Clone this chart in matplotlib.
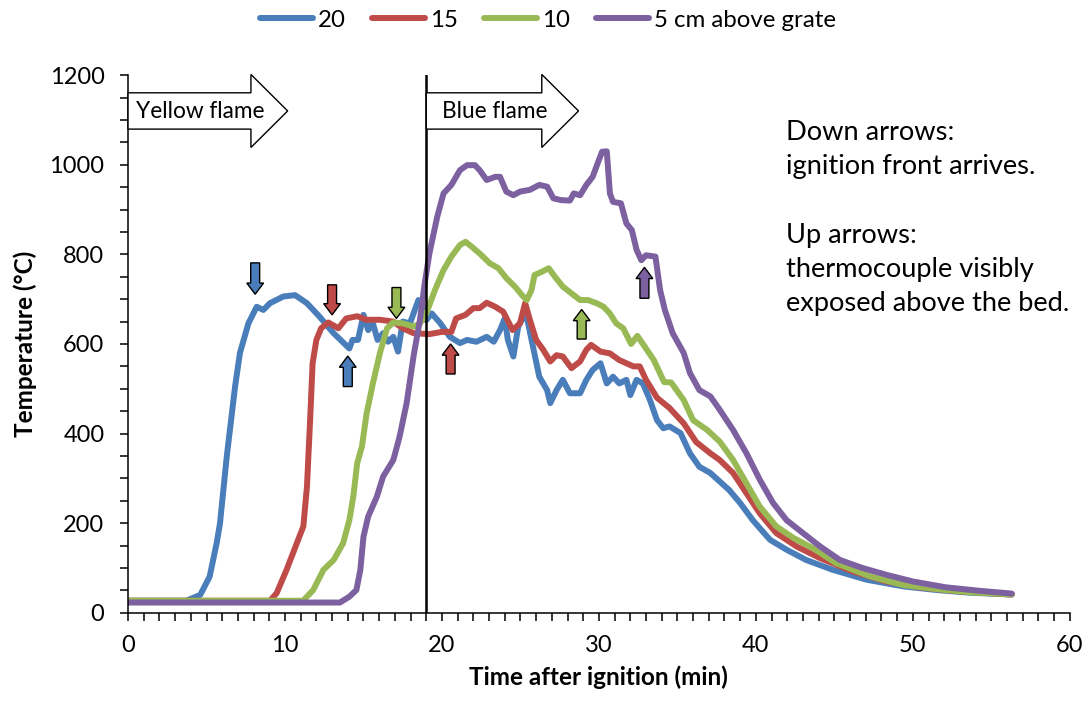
import matplotlib
matplotlib.use("Agg")
import matplotlib.pyplot as plt
from matplotlib.patches import FancyArrow

plt.rcParams['font.family'] = ['Lato', 'DejaVu Sans']

# time (min) and temperature (C) for each thermocouple height
t20 = [0, 3.7, 4.6, 5.2, 5.65, 5.86, 6.29, 6.82, 7.13, 7.67, 8.2, 8.62, 9.04, 9.9, 10.64, 11.4, 12.2, 13.1,
       14.1, 14.3, 14.65, 15.0, 15.3, 15.6, 15.9, 16.25, 16.57, 16.9, 17.2, 17.5, 17.96, 18.5, 18.7, 19.0,
       19.35, 19.9, 20.5, 21.15, 21.6, 22.2, 22.85, 23.3, 23.7, 24.0, 24.2, 24.55, 24.86, 25.2, 25.4, 25.8,
       26.2, 26.7, 26.9, 27.3, 27.7, 28.15, 28.8, 29.2, 29.6, 30.1, 30.5, 30.9, 31.3, 31.75, 32.0, 32.4,
       32.8, 33.25, 33.7, 34.1, 34.5, 35.2, 35.8, 36.4, 37.1, 37.7, 38.3, 39.0, 39.8, 40.9, 41.95, 43.2,
       44.9, 47.05, 49.4, 51.5, 53.6, 56.3]
T20 = [27, 27, 40, 81, 156, 200, 349, 505, 580, 646, 683, 676, 691, 706, 709, 691, 661, 624,
       590, 609, 609, 665, 631, 646, 609, 624, 605, 616, 583, 650, 646, 698, 691, 653,
       668, 646, 616, 602, 609, 605, 616, 605, 631, 657, 609, 572, 639, 661, 661, 594,
       527, 497, 468, 497, 520, 490, 490, 520, 542, 557, 512, 527, 512, 520, 486, 520,
       512, 475, 430, 412, 416, 401, 356, 326, 312, 293, 274, 245, 207, 163, 141, 118,
       96, 74, 59, 51, 45, 41]

t15 = [0, 9.04, 9.47, 10.1, 10.75, 11.17, 11.4, 11.6, 11.76, 12.0, 12.3, 12.76, 13.4, 13.9, 14.6, 15.2,
       16.05, 16.9, 17.5, 18.2, 19.2, 19.98, 20.6, 20.9, 21.5, 22.0, 22.4, 22.85, 23.4, 23.9, 24.5, 24.97,
       25.3, 25.6, 26.0, 26.45, 26.9, 27.3, 27.7, 28.25, 28.8, 29.2, 29.5, 30.1, 30.7, 31.3, 31.75, 32.2,
       32.6, 33.0, 33.7, 34.5, 35.4, 36.2, 37.1, 37.7, 38.55, 39.4, 40.25, 41.3, 42.6, 44.1, 46.2, 48.3,
       50.4, 52.6, 56.3]
T15 = [27, 27, 44, 96, 155, 193, 282, 430, 557, 609, 635, 648, 635, 657, 662, 654,
       654, 650, 635, 624, 622, 627, 627, 657, 665, 680, 680, 692, 683, 672, 631, 646,
       691, 654, 609, 587, 561, 575, 572, 546, 561, 587, 598, 583, 579, 564, 557, 550,
       550, 520, 480, 457, 423, 381, 356, 341, 312, 267, 222, 178, 148, 122, 92, 70,
       57, 49, 41]

t10 = [0, 11.15, 11.8, 12.45, 13.1, 13.7, 14.1, 14.35, 14.6, 14.9, 15.2, 15.6, 16.05, 16.5, 16.9, 17.5,
       18.2, 18.6, 19.0, 19.55, 20.1, 20.6, 21.15, 21.5, 21.9, 22.4, 23.05, 23.6, 24.1, 24.65, 25.1, 25.4,
       25.7, 25.9, 26.35, 26.8, 27.2, 27.7, 28.25, 28.8, 29.3, 29.85, 30.3, 30.7, 31.1, 31.55, 32.05, 32.45,
       32.9, 33.5, 34.15, 34.6, 35.4, 36.0, 36.9, 37.7, 38.55, 39.4, 40.25, 41.3, 42.4, 43.65, 45.1, 47.3,
       49.4, 51.5, 53.6, 56.3]
T10 = [27, 27, 51, 96, 118, 155, 207, 259, 334, 371, 445, 512, 580, 635, 648, 646,
       639, 646, 668, 720, 765, 795, 821, 828, 817, 802, 780, 769, 747, 728, 709, 698,
       720, 754, 761, 769, 750, 728, 713, 698, 698, 691, 683, 668, 646, 635, 600, 618,
       595, 564, 515, 514, 475, 430, 408, 382, 341, 289, 237, 193, 167, 144, 111, 81,
       62, 53, 46, 41]

t5 = [0, 13.5, 14.1, 14.55, 14.8, 15.0, 15.3, 15.85, 16.25, 16.9, 17.3, 17.75, 18.2, 18.6, 18.9, 19.2,
      19.7, 20.1, 20.6, 21.15, 21.6, 22.1, 22.4, 22.85, 23.4, 23.7, 24.1, 24.55, 24.97, 25.6, 26.2, 26.7,
      27.1, 27.6, 28.15, 28.4, 28.8, 29.2, 29.6, 29.96, 30.2, 30.5, 30.7, 30.9, 31.4, 31.75, 32.1, 32.4,
      32.7, 33.0, 33.6, 33.9, 34.2, 34.7, 35.05, 35.4, 35.8, 36.4, 37.1, 37.7, 38.55, 39.4, 40.25, 41.1,
      41.95, 43.0, 44.1, 45.35, 46.8, 48.3, 50.0, 52.1, 54.3, 56.3]
T5 = [23, 23, 36, 51, 96, 170, 215, 259, 304, 341, 393, 468, 575, 654, 735, 802,
      884, 936, 955, 988, 999, 999, 988, 966, 973, 973, 940, 932, 940, 944, 955, 951,
      925, 921, 920, 936, 932, 955, 973, 1007, 1029, 1030, 936, 917, 914, 869, 854, 810,
      787, 798, 795, 720, 676, 624, 602, 580, 535, 497, 483, 453, 408, 356, 297, 245,
      207, 178, 148, 118, 100, 85, 70, 57, 49, 43]

labels = ["20", "15", "10", "5 cm above grate"]
colors = ["#4A7EBB", "#BE4B48", "#98B954", "#7D60A0"]

# small arrows: (time, start temp, end temp, series index)
down_arrows = [(8.1, 781, 711, 0), (13.0, 732, 665, 1), (17.1, 726, 657, 2)]
up_arrows = [(14.0, 505, 573, 0), (20.55, 533, 600, 1), (28.9, 611, 677, 2), (32.9, 702, 771, 3)]

fig = plt.figure(figsize=(10.85, 7.02), dpi=100)
ax = fig.add_axes([0.118, 0.127, 0.868, 0.766])

for t, T, lab, c in zip([t20, t15, t10, t5], [T20, T15, T10, T5], labels, colors):
    ax.plot(t, T, color=c, lw=4.3, label=lab, solid_joinstyle='round', solid_capstyle='round')

ax.axvline(19, color='black', lw=1.8, zorder=5)

for x, y0, y1, i in down_arrows + up_arrows:
    ax.add_patch(FancyArrow(x, y0, 0, y1 - y0, width=0.57, head_width=1.07, head_length=25,
                            length_includes_head=True, fc=colors[i], ec='black', lw=1, zorder=6))

# flame phase arrows
ax.add_patch(FancyArrow(0, 1120, 10.17, 0, width=81, head_width=163, head_length=2.34,
                        length_includes_head=True, fc='white', ec='black', lw=1, clip_on=False, zorder=6))
ax.add_patch(FancyArrow(19, 1120, 9.7, 0, width=81, head_width=163, head_length=2.34,
                        length_includes_head=True, fc='white', ec='black', lw=1, clip_on=False, zorder=6))
ax.text(0.5, 1118, "Yellow flame", fontsize=16.3, va='center', zorder=7)
ax.text(20.0, 1118, "Blue flame", fontsize=16.3, va='center', zorder=7)

ax.text(41.9, 1100, "Down arrows:\nignition front arrives.\n\nUp arrows:\nthermocouple visibly\nexposed above the bed.",
        fontsize=19.6, va='top', ha='left', linespacing=1.46)

ax.set_xlim(0, 60)
ax.set_ylim(0, 1200)
ax.set_xticks(range(0, 61, 10))
ax.set_xticks(range(0, 61, 1), minor=True)
ax.set_yticks(range(0, 1201, 200))
ax.set_yticks(range(0, 1201, 50), minor=True)
ax.tick_params(which='both', direction='out', length=6, width=1.1, labelsize=17)
ax.tick_params(axis='y', which='major', pad=11)
ax.tick_params(axis='x', which='major', pad=10)
for s in ['top', 'right']:
    ax.spines[s].set_visible(False)
for s in ['left', 'bottom']:
    ax.spines[s].set_linewidth(1.1)

ax.set_xlabel("Time after ignition (min)", fontsize=17.5, fontweight='bold', labelpad=7)
ax.set_ylabel("Temperature (°C)", fontsize=17.5, fontweight='bold', labelpad=9)

fig.legend(loc='center', bbox_to_anchor=(0.505, 0.971), ncol=4, frameon=False, fontsize=17.3,
           handlelength=2.2, handletextpad=0.2, columnspacing=1.1)

plt.savefig("out.png", dpi=100)
